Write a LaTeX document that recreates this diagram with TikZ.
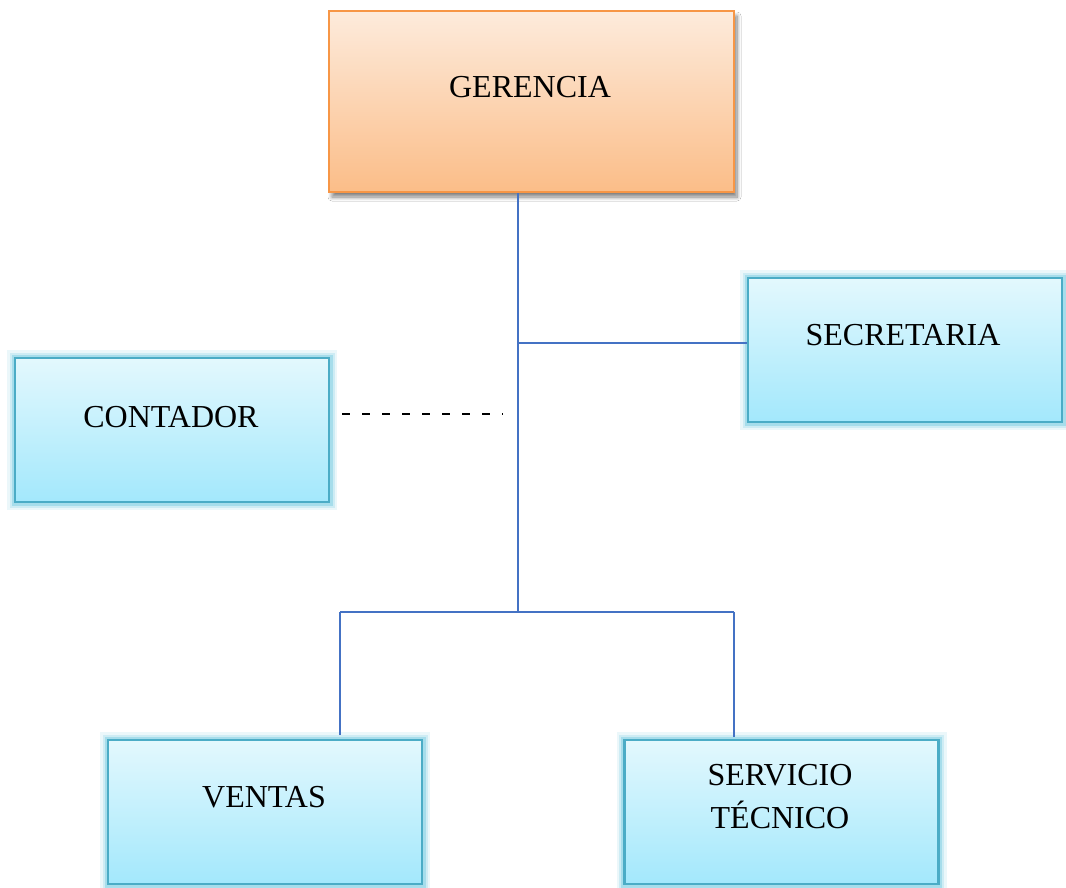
\documentclass[tikz,border=0pt]{standalone}
\usepackage{fontspec}
\setmainfont{Liberation Serif}
\usetikzlibrary{shadows.blur}
\definecolor{gerTop}{HTML}{FDEBDC}
\definecolor{gerBot}{HTML}{FBBD88}
\definecolor{gerBorder}{HTML}{F79646}
\definecolor{bluTop}{HTML}{E3F8FD}
\definecolor{bluBot}{HTML}{A3E8FC}
\definecolor{bluBorder}{HTML}{4BACC6}
\definecolor{glowc}{HTML}{5CC3DD}
\definecolor{lineC}{HTML}{4472C4}
\tikzset{
  gerbox/.style={draw=gerBorder, line width=2.6pt, top color=gerTop, bottom color=gerBot,
    minimum width=405pt, minimum height=181pt, inner sep=0pt,
    blur shadow={shadow xshift=3pt, shadow yshift=-5pt, shadow blur steps=8, shadow blur radius=4pt, shadow opacity=50}},
  blubox/.style={draw=bluBorder, line width=2.8pt, top color=bluTop, bottom color=bluBot,
    minimum width=314pt, minimum height=144pt, inner sep=0pt,
    preaction={draw=glowc, line width=16pt, draw opacity=0.12},
    preaction={draw=glowc, line width=11pt, draw opacity=0.2},
    preaction={draw=glowc, line width=7pt, draw opacity=0.35}},
  lbl/.style={font=\fontsize{32}{43}\selectfont, align=center, inner sep=0pt},
  conn/.style={draw=lineC, line width=1.5pt},
  dashline/.style={draw=black, line width=2.4pt, dash pattern=on 8pt off 12pt}
}
\begin{document}
\begin{tikzpicture}[x=1pt, y=-1pt]
\useasboundingbox (0,0) rectangle (1066,887);
\clip (0,0) rectangle (1066,887);
\fill[white] (0,0) rectangle (1066,887);

% boxes
\node[gerbox] (ger) at (531.5,101.5) {};
\node[blubox] (sec) at (905,350) {};
\node[blubox] (con) at (172,430) {};
\node[blubox] (ven) at (265,812) {};
\node[blubox] (ser) at (781.5,812) {};

% labels
\node[lbl] (gert) at (530,87) {GERENCIA};
\node[lbl] (sect) at (903,335) {SECRETARIA};
\node[lbl] (cont) at (171,417) {CONTADOR};
\node[lbl] (vent) at (264,797) {VENTAS};
\node[lbl] (sert) at (780,797) {SERVICIO\\TÉCNICO};

% junctions
\coordinate (jsec) at (518,343);
\coordinate (jbot) at (518,612);
\coordinate (bl) at (340,612);
\coordinate (br) at (734,612);
\coordinate (dend) at (503,414);
\coordinate (dstart) at (342,414);

% connectors
\draw[conn] (ger.south -| jbot) -- (jbot);
\draw[conn] (jsec) -- (jsec -| sec.west);
\draw[conn] (bl) -- (br);
\draw[conn] (bl) -- ([yshift=4pt]bl |- ven.north);
\draw[conn] (br) -- ([yshift=2pt]br |- ser.north);
\draw[dashline] (dstart) -- (dend);
\end{tikzpicture}
\end{document}
